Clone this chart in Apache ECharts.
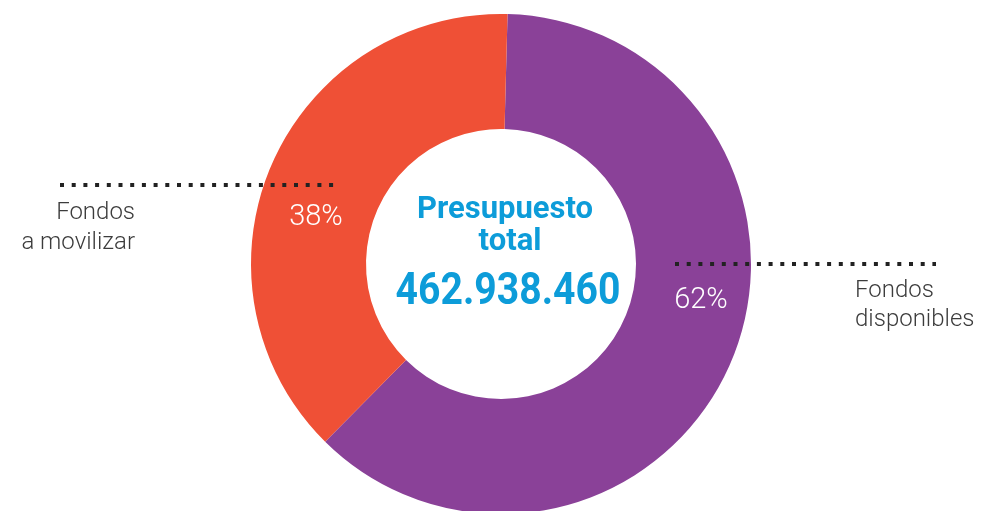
<!DOCTYPE html>
<html>
<head>
<meta charset="utf-8">
<script src="https://cdn.jsdelivr.net/npm/echarts@6/dist/echarts.min.js"></script>
<style>
  html, body { margin: 0; padding: 0; background: #fff; }
  #chart { width: 982px; height: 511px; }
</style>
</head>
<body>
<div id="chart"></div>
<script>
const names = ['Fondos disponibles', 'Fondos a movilizar'];
const values = [62, 38];
const colors = ['#8a4198', '#ef5036'];
const totalLabel = ['Presupuesto', 'total'];
const totalValue = '462.938.460';

// where each percentage sits
const labelPos = [[701, 301], [316, 218]];

let myChart = echarts.init(document.getElementById('chart'));

const blue = '#0d9cd9';
const grey = '#3c3c3c';

let option = {
    animation: false,
    series: [{
        type: 'pie',
        center: [501, 264],
        radius: [135, 250],
        startAngle: 88.5,
        clockwise: true,
        silent: true,
        data: names.map((n, i) => ({
            name: n,
            value: values[i],
            itemStyle: { color: colors[i] }
        })),
        label: {
            show: true,
            position: 'inside',
            formatter: '{d}%',
            color: '#fff',
            fontFamily: 'Roboto',
            fontWeight: 300,
            fontSize: 29
        },
        labelLine: { show: false },
        labelLayout: function (params) {
            let p = labelPos[params.dataIndex];
            return { x: p[0], y: p[1], align: 'center', verticalAlign: 'middle' };
        }
    }],
    graphic: [
        // dotted leader lines
        {
            type: 'line', z: 100,
            shape: { x1: 60, y1: 185, x2: 334, y2: 185 },
            style: { stroke: '#222', lineWidth: 4, lineDash: [4, 7.7] }
        },
        {
            type: 'line', z: 100,
            shape: { x1: 675, y1: 264, x2: 936, y2: 264 },
            style: { stroke: '#222', lineWidth: 4, lineDash: [4, 7.7] }
        },
        // side labels
        {
            type: 'text', z: 100, x: 135, y: 213,
            style: { text: 'Fondos', textAlign: 'right', textVerticalAlign: 'middle',
                fill: grey, font: '300 24px Roboto' }
        },
        {
            type: 'text', z: 100, x: 135, y: 243,
            style: { text: 'a movilizar', textAlign: 'right', textVerticalAlign: 'middle',
                fill: grey, font: '300 24px Roboto' }
        },
        {
            type: 'text', z: 100, x: 855, y: 291,
            style: { text: 'Fondos', textAlign: 'left', textVerticalAlign: 'middle',
                fill: grey, font: '300 24px Roboto' }
        },
        {
            type: 'text', z: 100, x: 855, y: 320,
            style: { text: 'disponibles', textAlign: 'left', textVerticalAlign: 'middle',
                fill: grey, font: '300 24px Roboto' }
        },
        // centre text
        {
            type: 'text', z: 100, x: 505, y: 210,
            style: { text: totalLabel[0], textAlign: 'center', textVerticalAlign: 'middle',
                fill: blue, font: 'bold 31px Roboto' }
        },
        {
            type: 'text', z: 100, x: 510, y: 242,
            style: { text: totalLabel[1], textAlign: 'center', textVerticalAlign: 'middle',
                fill: blue, font: 'bold 31px Roboto' }
        },
        {
            type: 'text', z: 100, x: 508, y: 293, scaleX: 0.89,
            style: { text: totalValue, textAlign: 'center', textVerticalAlign: 'middle',
                fill: blue, font: 'bold 44px Roboto' }
        }
    ]
};

myChart.setOption(option);
</script>
</body>
</html>
